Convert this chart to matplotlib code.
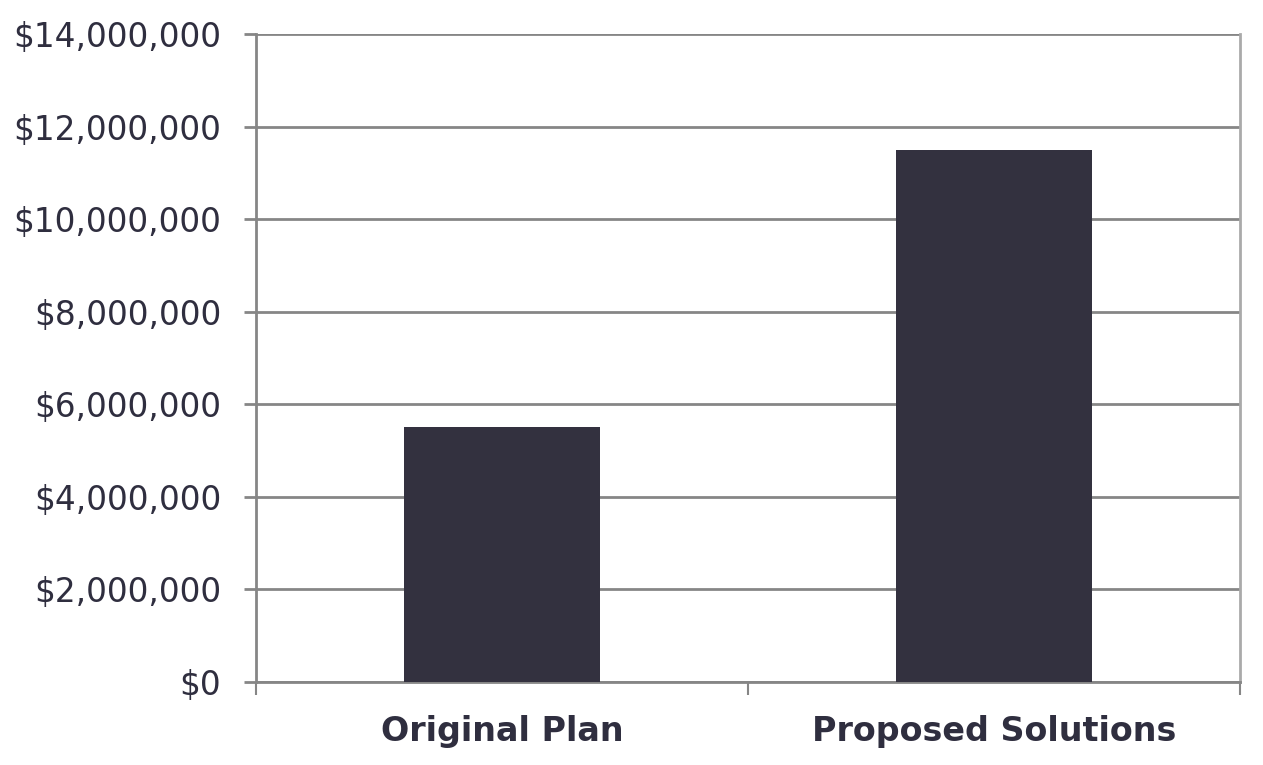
import matplotlib
matplotlib.use("Agg")
import matplotlib.pyplot as plt
from matplotlib.ticker import FuncFormatter, FixedLocator

categories = ["Original Plan", "Proposed Solutions"]
values = [5500000, 11500000]
yticks = [0, 2000000, 4000000, 6000000, 8000000, 10000000, 12000000, 14000000]

bar_color = "#33313F"
text_color = "#2F2E3F"
grid_color = "#868686"

fig = plt.figure(figsize=(12.63, 7.65), dpi=100)
ax = fig.add_axes([256/1263, 1 - 682/765, (1240-256)/1263, (682-34)/765])

x = range(len(categories))
ax.bar(x, values, width=0.4, color=bar_color, zorder=3)

ax.set_xlim(-0.5, len(categories) - 0.5)
ax.set_ylim(0, 14000000)
ax.yaxis.set_major_locator(FixedLocator(yticks))
ax.yaxis.set_major_formatter(FuncFormatter(lambda v, p: "${:,.0f}".format(v)))
ax.grid(axis="y", color=grid_color, linewidth=2, zorder=0)

ax.set_xticks([i for i in x])
ax.set_xticklabels(categories, fontsize=24, fontweight="bold", color=text_color)
ax.tick_params(axis="x", length=0, pad=24)
ax.xaxis.set_minor_locator(FixedLocator([-0.5, 0.5, 1.5]))
ax.tick_params(axis="x", which="minor", length=9, width=1.5, color=grid_color)
ax.tick_params(axis="y", length=9, width=2, color=grid_color, labelsize=23.5,
               labelcolor=text_color, pad=16)

ax.spines["top"].set_visible(False)
ax.spines["left"].set_color(grid_color)
ax.spines["left"].set_linewidth(2)
ax.spines["bottom"].set_color(grid_color)
ax.spines["bottom"].set_linewidth(2)
ax.spines["right"].set_color("#AAAAAA")
ax.spines["right"].set_linewidth(2)

fig.savefig("out.png", dpi=100, facecolor="white")
